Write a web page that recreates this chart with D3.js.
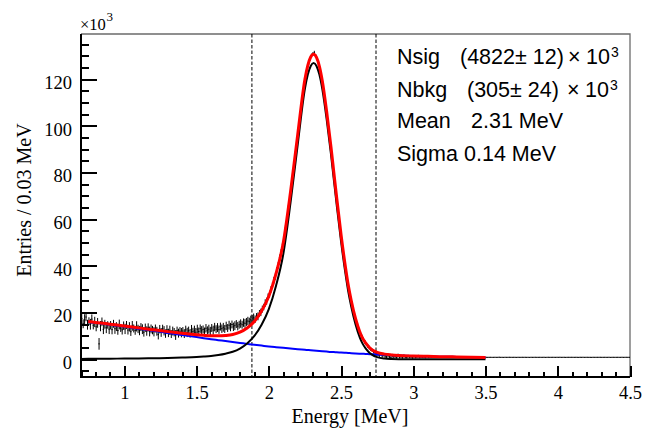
<!DOCTYPE html>
<html><head><meta charset="utf-8">
<script src="https://cdn.jsdelivr.net/npm/d3@7"></script>
<style>body{margin:0;background:#fff}</style>
</head><body><svg id="c" width="660" height="430"></svg>
<script>
// ---------------- data ----------------
const binStart = 0.70, binWidth = 0.01;   // histogram binning (MeV)
// entries (x10^3) per bin, 0.70 - 1.90
const countsLow = [
 17.5,15.2,16.9,18.1,14.8,16.3,15.0,17.2,14.6,16.0,
 13.9,15.6,6.6,14.2,16.1,12.8,15.0,13.5,14.7,12.9,
 14.6,12.7,15.2,13.1,14.0,12.3,14.9,13.3,12.6,14.4,
 13.0,14.7,12.5,13.9,11.8,14.3,13.2,12.4,14.1,13.0,
 12.3,13.8,12.9,11.6,13.5,12.1,13.7,11.9,13.0,12.5,
 11.8,13.2,12.0,10.6,12.9,11.5,13.1,12.2,11.0,12.7,
 11.3,12.4,10.8,12.1,11.6,10.4,12.3,11.2,12.0,11.4,
 12.1,11.0,12.6,11.5,12.3,11.1,12.8,11.8,12.4,11.6,
 12.9,11.9,13.1,12.2,12.8,11.7,13.3,12.4,12.9,12.1,
 13.4,12.5,13.8,12.9,13.6,12.7,14.0,13.1,13.7,13.0,
 14.3,13.4,14.6,13.8,14.9,13.9,14.4,15.1,14.2,14.8,
 15.3,14.8,15.7,15.4,16.0,16.4,16.1,16.9,17.3,17.8];
const errLow = [
 2.2,1.9,2.4,1.8,2.1,1.7,2.3,2.0,1.8,2.2,
 1.9,2.1,2.5,2.2,1.8,2.0,1.9,2.3,1.6,2.1,
 1.8,2.0,1.7,2.2,1.9,1.8,2.1,1.6,2.0,1.8,
 2.2,1.7,1.9,2.0,1.8,2.1,1.7,1.9,2.2,1.8,
 2.0,1.7,2.1,1.9,1.8,2.0,1.7,2.1,1.9,1.8,
 2.0,1.7,1.9,2.1,1.8,1.9,1.7,2.0,1.8,1.9,
 1.8,2.0,1.7,1.9,1.8,2.1,1.7,1.9,1.8,2.0,
 1.7,1.9,1.8,2.0,1.7,1.8,1.9,1.7,2.0,1.8,
 1.9,1.7,1.8,2.0,1.7,1.9,1.8,1.7,1.9,1.8,
 1.7,1.9,1.8,1.7,1.9,1.8,1.7,1.8,1.9,1.7,
 1.8,1.7,1.9,1.8,1.7,1.8,1.9,1.7,1.8,1.7,
 1.8,1.7,1.8,1.9,1.7,1.8,1.7,1.8,1.7,1.8];
// 1.90 - 2.80
const countsPeak = [
 17.2,18.3,18.4,19.6,20.1,21.5,22.4,24.1,24.9,26.8,
 27.9,29.9,31.6,33.9,35.4,38.2,40.3,43.6,45.9,49.3,
 52.1,56.4,60.2,65.1,69.4,74.2,79.3,84.1,89.0,93.8,
 98.6,103.5,108.2,112.6,117.3,120.8,124.1,126.4,128.6,130.2,
 130.9,131.3,130.1,128.7,126.4,123.9,120.6,116.9,112.4,108.1,
 103.2,98.6,93.5,88.4,82.6,77.3,71.8,66.5,61.0,55.7,
 50.9,46.3,41.8,37.6,33.5,30.1,26.9,24.0,21.1,18.6,
 16.3,14.4,12.5,11.0,9.6,8.5,7.4,6.5,5.7,5.0,
 4.4,3.9,3.3,3.0,2.5,2.1,1.7,2.3,1.5,1.9];
const errPeak = [
 1.6,1.5,1.7,1.5,1.6,1.5,1.4,1.6,1.5,1.4,
 1.5,1.4,1.5,1.4,1.4,1.3,1.4,1.3,1.3,1.2,
 1.2,1.1,1.2,1.1,1.1,1.0,1.1,1.0,1.0,0.9,
 0.9,0.9,0.8,0.8,0.8,0.7,0.8,0.7,0.7,0.8,
 0.7,0.9,0.7,0.7,0.8,0.7,0.7,0.8,0.8,0.8,
 0.9,0.8,0.9,0.9,1.0,0.9,1.0,0.9,1.0,1.0,
 1.0,1.0,1.0,1.0,1.0,0.9,1.0,0.9,0.9,0.9,
 0.9,0.9,0.9,0.9,0.9,0.8,0.9,0.8,0.8,0.8,
 0.8,0.7,0.8,0.7,0.8,0.7,0.8,0.7,0.8,0.7];
// 2.80 - 3.50
const countsTail = [
 1.4,0.9,1.7,1.1,0.7,1.5,1.0,1.3,0.8,1.6,
 0.9,1.2,0.7,1.4,1.0,0.8,1.3,0.9,1.1,0.7,
 1.2,0.9,1.0,1.3,0.8,1.1,0.9,1.0,0.8,1.2,
 0.9,1.0,0.85,1.1,0.9,0.95,0.85,1.0,0.9,0.85,
 0.95,0.9,0.85,1.0,0.9,0.85,0.95,0.9,0.85,0.9,
 0.9,0.85,0.9,0.95,0.85,0.9,0.85,0.9,0.88,0.86,
 0.88,0.86,0.9,0.85,0.87,0.86,0.88,0.85,0.87,0.86];
const errTail = [
 0.8,0.6,0.9,0.7,0.6,0.8,0.6,0.7,0.6,0.8,
 0.6,0.7,0.5,0.7,0.6,0.5,0.6,0.5,0.6,0.5,
 0.6,0.5,0.5,0.6,0.4,0.5,0.4,0.5,0.4,0.5,
 0.4,0.35,0.3,0.35,0.3,0.3,0.25,0.3,0.25,0.25,
 0.2,0.2,0.2,0.2,0.2,0.15,0.15,0.15,0.15,0.15,
 0.12,0.14,0.12,0.13,0.12,0.14,0.12,0.13,0.12,0.14,
 0.12,0.13,0.12,0.14,0.12,0.13,0.12,0.12,0.13,0.12];
// 3.50 - 4.50
const countsFlat = [
 0.86,0.84,0.85,0.87,0.83,0.85,0.86,0.84,0.85,0.88,
 0.84,0.85,0.83,0.86,0.85,0.84,0.87,0.85,0.84,0.86,
 0.85,0.83,0.86,0.85,0.84,0.87,0.85,0.86,0.84,0.85,
 0.83,0.86,0.85,0.85,0.87,0.84,0.85,0.86,0.84,0.85,
 0.86,0.83,0.85,0.87,0.84,0.85,0.86,0.85,0.84,0.86,
 0.85,0.87,0.84,0.85,0.86,0.83,0.85,0.86,0.84,0.87,
 0.85,0.84,0.86,0.85,0.83,0.86,0.85,0.87,0.84,0.85,
 0.86,0.84,0.85,0.83,0.86,0.85,0.84,0.86,0.85,0.87,
 0.84,0.85,0.86,0.84,0.85,0.87,0.83,0.85,0.86,0.84,
 0.85,0.86,0.84,0.85,0.87,0.84,0.85,0.86,0.85,0.84];
const errFlat = [
 0.10,0.08,0.12,0.10,0.09,0.11,0.10,0.08,0.10,0.12,
 0.09,0.10,0.11,0.08,0.10,0.09,0.12,0.10,0.08,0.10,
 0.11,0.09,0.10,0.08,0.12,0.10,0.09,0.10,0.11,0.08,
 0.10,0.09,0.12,0.10,0.08,0.10,0.11,0.09,0.10,0.08,
 0.12,0.10,0.09,0.10,0.11,0.08,0.10,0.09,0.12,0.10,
 0.09,0.11,0.10,0.08,0.10,0.12,0.09,0.10,0.11,0.08,
 0.10,0.09,0.11,0.10,0.08,0.12,0.10,0.09,0.10,0.11,
 0.08,0.10,0.12,0.09,0.10,0.08,0.11,0.10,0.09,0.10,
 0.12,0.08,0.10,0.11,0.09,0.10,0.08,0.12,0.10,0.09,
 0.10,0.11,0.08,0.10,0.09,0.12,0.10,0.08,0.11,0.10];

// fitted curves sampled (x10^3 entries / bin)
const fitX = [0.70,0.75,0.80,0.90,1.00,1.10,1.20,1.30,1.40,1.50,1.55,1.60,1.65,1.70,1.75,1.80,1.85,1.90,1.95,2.00,
 2.05,2.10,2.15,2.20,2.25,2.27,2.29,2.31,2.33,2.35,2.37,2.40,2.43,2.45,2.47,2.50,2.53,2.55,2.57,2.60,
 2.63,2.65,2.67,2.70,2.73,2.75,2.80,2.85,2.90,3.00,3.10,3.20,3.30,3.40,3.50];
const sigY = [0.15,0.18,0.2,0.25,0.3,0.35,0.45,0.55,0.75,1.0,1.2,1.45,1.85,2.4,3.2,4.6,6.8,10.0,14.8,21.5,
 31.5,45,67,92,116,122,125.7,127,125.7,122,115.9,103,88,77,66.1,50.5,36.9,29,22.7,15,
 9.3,6.6,4.7,2.6,1.4,0.9,0.3,0.1,0.03,0.01,0,0,0,0,0];
const bkgY = [null,16.0,15.6,14.8,14.0,13.1,12.2,11.3,10.4,9.5,9.05,8.6,8.2,7.8,7.4,7.0,6.6,6.2,5.85,5.5,
 5.2,4.9,4.6,4.3,4.05,3.95,3.85,3.75,3.65,3.55,3.45,3.3,3.15,3.1,3.0,2.9,2.78,2.7,2.62,2.5,
 2.4,2.35,2.3,2.2,2.1,2.05,1.9,1.75,1.6,1.4,1.25,1.1,1.0,0.9,0.8];

const signalWindow = [1.883, 2.742];
const xMajor = [1,1.5,2,2.5,3,3.5,4,4.5];
const xTickLabels = ["1","1.5","2","2.5","3","3.5","4","4.5"];
const yMajor = [0,20,40,60,80,100,120];
const yTickLabels = ["0","20","40","60","80","100","120"];
const legendLabels = ["Nsig","Nbkg","Mean","Sigma"];
const legendValues = ["(4822\u00B1 12)","(305\u00B1 24)","2.31 MeV","0.14 MeV"];
const legendExp = ["3","3",null,null];

// ---------------- layout ----------------
const L=81, R=630, T=34, B=377;
const x = d3.scaleLinear().domain([0.7,4.5]).range([L,R]);
const y = d3.scaleLinear().domain([-7.6,139.4]).range([B,T]);
const serif = "'Liberation Serif','Times New Roman',serif";
const sans = "'Liberation Sans',Arial,Helvetica,sans-serif";

const svg = d3.select("#c");
svg.append("rect").attr("width",660).attr("height",430).attr("fill","#fff");

// frame top/right
svg.append("path").attr("d",`M${L},${T}H${R}V${B}`).attr("fill","none")
  .attr("stroke","#6b6b6b").attr("stroke-width",1.3);

// signal window dashed lines
svg.append("g").selectAll("line").data(signalWindow).join("line")
  .attr("x1",d=>x(d)).attr("x2",d=>x(d)).attr("y1",T).attr("y2",B)
  .attr("stroke","#000").attr("stroke-width",1).attr("stroke-dasharray","3.5,2");

// data histogram with error bars
const counts = countsLow.concat(countsPeak, countsTail, countsFlat);
const errs = errLow.concat(errPeak, errTail, errFlat);
const bins = counts.map((v,i)=>({lo:binStart+i*binWidth, hi:binStart+(i+1)*binWidth, v, e:errs[i]}));
svg.append("g").selectAll("path").data(bins).join("path")
  .attr("d", d=>`M${x(d.lo)},${y(d.v)}H${x(d.hi)}M${x((d.lo+d.hi)/2)},${y(d.v-d.e)}V${y(d.v+d.e)}`)
  .attr("fill","none").attr("stroke","#000").attr("stroke-width",1);

// curves
const pts = fitX.map((e,i)=>({e, s:sigY[i], b:bkgY[i]}));
const fitPts = pts.filter(p=>p.b!==null);
const line = d3.line().curve(d3.curveMonotoneX);
svg.append("path").attr("d", line.x(p=>x(p.e)).y(p=>y(p.b))(fitPts))
  .attr("fill","none").attr("stroke","#0000ff").attr("stroke-width",2);
svg.append("path").attr("d", line.x(p=>x(p.e)).y(p=>y(p.s))(pts))
  .attr("fill","none").attr("stroke","#000").attr("stroke-width",2);
svg.append("path").attr("d", line.x(p=>x(p.e)).y(p=>y(p.s+p.b))(fitPts))
  .attr("fill","none").attr("stroke","#ff0000").attr("stroke-width",3);

// axes
const styleAxis = (g,fs) => {
  g.select(".domain").remove();
  g.selectAll("line").attr("stroke","#000").attr("stroke-width",2).attr("shape-rendering","crispEdges");
  g.selectAll("text").attr("font-family",serif).attr("font-size",fs).attr("fill","#000");
};
const yMinor = d3.range(-5,136,5).filter(v=>v%20!==0);
svg.append("g").attr("transform",`translate(${L},0)`)
  .call(d3.axisLeft(y).tickValues(yMinor).tickSize(-8).tickFormat(""))
  .call(g=>styleAxis(g,18.5));
svg.append("g").attr("transform",`translate(${L},0)`)
  .call(d3.axisLeft(y).tickValues(yMajor).tickSize(-16).tickPadding(9).tickFormat((d,i)=>yTickLabels[i]))
  .call(g=>styleAxis(g,18.5))
  .call(g=>g.selectAll("text").attr("dy","0.5em"));
const xMinor = d3.range(7,46).map(v=>v/10).filter(v=>Math.abs(v*2-Math.round(v*2))>1e-6);
svg.append("g").attr("transform",`translate(0,${B})`)
  .call(d3.axisBottom(x).tickValues(xMinor).tickSize(-5.5).tickFormat(""))
  .call(g=>styleAxis(g,18.5));
svg.append("g").attr("transform",`translate(0,${B})`)
  .call(d3.axisBottom(x).tickValues(xMajor).tickSize(-11).tickPadding(9).tickFormat((d,i)=>xTickLabels[i]))
  .call(g=>styleAxis(g,18.5));

// axis lines
svg.append("path").attr("d",`M${L},${T}V${B}H${R}`).attr("fill","none")
  .attr("stroke","#000").attr("stroke-width",2);

// axis titles
svg.append("text").attr("x",350).attr("y",423).attr("text-anchor","middle")
  .attr("font-family",serif).attr("font-size",20).text("Energy [MeV]");
svg.append("text").attr("transform","translate(31,200) rotate(-90)").attr("text-anchor","middle")
  .attr("font-family",serif).attr("font-size",20).text("Entries / 0.03 MeV");
// exponent
svg.append("text").attr("x",80).attr("y",29.5).attr("font-family",serif).attr("font-size",16.5).text("\u00D710");
svg.append("text").attr("x",106.5).attr("y",20.5).attr("font-family",serif).attr("font-size",13).text("3");

// fit results
const rowY = [64,96.5,127.5,161];
const valX = [460,467,471,464];
const timesX = [568,567];
const tenX = [586,585];
const fs = 21.5;
const lg = svg.append("g").attr("font-family",sans).attr("fill","#000");
legendLabels.forEach((lab,i)=>{
  lg.append("text").attr("x",397).attr("y",rowY[i]).attr("font-size",fs).text(lab);
  lg.append("text").attr("x",valX[i]).attr("y",rowY[i]).attr("font-size",fs).text(legendValues[i]);
  if (legendExp[i]) {
    lg.append("text").attr("x",timesX[i]).attr("y",rowY[i]).attr("font-size",fs).text("\u00D7");
    lg.append("text").attr("x",tenX[i]).attr("y",rowY[i]).attr("font-size",fs).text("10");
    lg.append("text").attr("x",tenX[i]+25).attr("y",rowY[i]-7).attr("font-size",14).text(legendExp[i]);
  }
});
</script></body></html>
